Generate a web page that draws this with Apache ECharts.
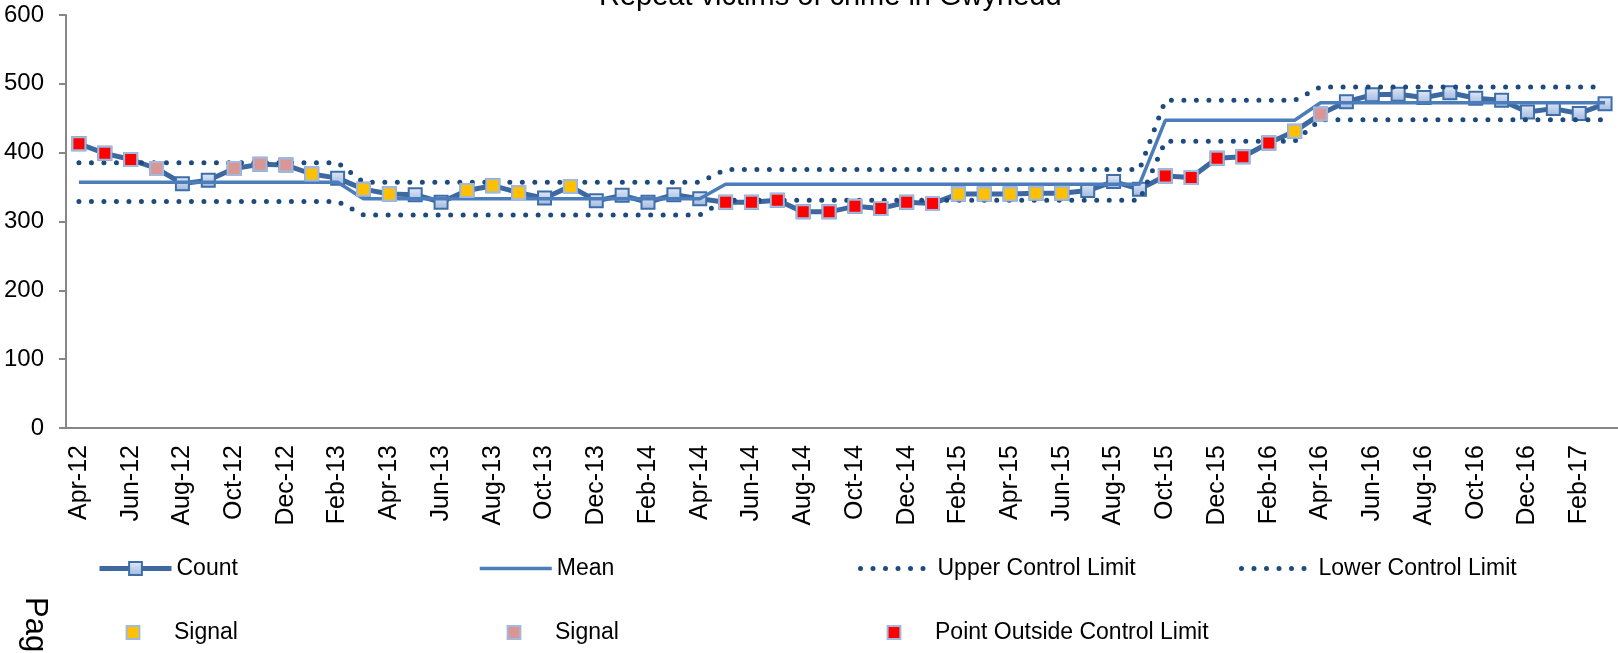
<!DOCTYPE html>
<html>
<head>
<meta charset="utf-8">
<script src="https://cdn.jsdelivr.net/npm/echarts@6/dist/echarts.min.js"></script>
<style>
  html, body { margin: 0; padding: 0; background: #fff; }
  #chart { width: 1618px; height: 653px; }
</style>
</head>
<body>
<div id="chart"></div>
<script>
const months = [
  'Apr-12', 'May-12', 'Jun-12', 'Jul-12', 'Aug-12', 'Sep-12', 'Oct-12', 'Nov-12', 'Dec-12',
  'Jan-13', 'Feb-13', 'Mar-13', 'Apr-13', 'May-13', 'Jun-13', 'Jul-13', 'Aug-13', 'Sep-13', 'Oct-13', 'Nov-13', 'Dec-13',
  'Jan-14', 'Feb-14', 'Mar-14', 'Apr-14', 'May-14', 'Jun-14', 'Jul-14', 'Aug-14', 'Sep-14', 'Oct-14', 'Nov-14', 'Dec-14',
  'Jan-15', 'Feb-15', 'Mar-15', 'Apr-15', 'May-15', 'Jun-15', 'Jul-15', 'Aug-15', 'Sep-15', 'Oct-15', 'Nov-15', 'Dec-15',
  'Jan-16', 'Feb-16', 'Mar-16', 'Apr-16', 'May-16', 'Jun-16', 'Jul-16', 'Aug-16', 'Sep-16', 'Oct-16', 'Nov-16', 'Dec-16',
  'Jan-17', 'Feb-17', 'Mar-17'
];

// monthly count of repeat victims
const counts = [
  413, 399, 390, 377, 355, 360, 377, 383, 382, 369,
  363, 347, 340, 339, 328, 345, 352, 342, 334, 351,
  330, 338, 328, 339, 333, 328, 328, 331, 314, 314,
  322, 319, 328, 326, 340, 340, 340, 341, 341, 345,
  358, 347, 366, 364, 392, 394, 414, 431, 456, 474,
  484, 485, 480, 487, 479, 476, 459, 464, 457, 471
];

const mean = [
  357, 357, 357, 357, 357, 357, 357, 357, 357, 357,
  357, 333, 333, 333, 333, 333, 333, 333, 333, 333,
  333, 333, 333, 333, 333, 354, 354, 354, 354, 354,
  354, 354, 354, 354, 354, 354, 354, 354, 354, 354,
  354, 354, 447, 447, 447, 447, 447, 447, 472.5, 472.5,
  472.5, 472.5, 472.5, 472.5, 472.5, 472.5, 472.5, 472.5, 472.5, 472.5
];

const upperLimit = [
  385.5, 385.5, 385.5, 385.5, 385.5, 385.5, 385.5, 385.5, 385.5, 385.5,
  385.5, 357, 357, 357, 357, 357, 357, 357, 357, 357,
  357, 357, 357, 357, 357, 375.5, 375.5, 375.5, 375.5, 375.5,
  375.5, 375.5, 375.5, 375.5, 375.5, 375.5, 375.5, 375.5, 375.5, 375.5,
  375.5, 375.5, 476, 476, 476, 476, 476, 476, 495.5, 495.5,
  495.5, 495.5, 495.5, 495.5, 495.5, 495.5, 495.5, 495.5, 495.5, 495.5
];

const lowerLimit = [
  329, 329, 329, 329, 329, 329, 329, 329, 329, 329,
  329, 309.5, 309.5, 309.5, 309.5, 309.5, 309.5, 309.5, 309.5, 309.5,
  309.5, 309.5, 309.5, 309.5, 309.5, 331, 331, 331, 331, 331,
  331, 331, 331, 331, 331, 331, 331, 331, 331, 331,
  331, 331, 416.5, 416.5, 416.5, 416.5, 416.5, 416.5, 448, 448,
  448, 448, 448, 448, 448, 448, 448, 448, 448, 448
];

// which months are flagged (indexes into months)
const amberSignal = [9, 11, 12, 15, 16, 17, 19, 34, 35, 36, 37, 38, 47];
const pinkSignal = [3, 6, 7, 8, 48];
const outsideLimit = [0, 1, 2, 25, 26, 27, 28, 29, 30, 31, 32, 33, 42, 43, 44, 45, 46];

const yTicks = { min: 0, max: 600, interval: 100 };

const FONT = "'Liberation Sans', Arial, sans-serif";
const DOTS = [0, 12.5];

function flagged(idx) {
  return counts.map((v, i) => (idx.includes(i) ? v : null));
}

function signalSeries(name, list, fill) {
  return {
    name: name,
    type: 'line',
    data: flagged(list),
    symbol: 'rect',
    symbolSize: 13,
    showSymbol: true,
    showAllSymbol: true,
    connectNulls: false,
    lineStyle: { opacity: 0, width: 0 },
    itemStyle: { color: fill, borderColor: '#a2b8dc', borderWidth: 2 },
    z: 5
  };
}

function legendAt(name, left, top, extra) {
  return Object.assign({
    data: [name],
    left: left,
    top: top,
    padding: 0,
    itemWidth: 72,
    itemHeight: 16,
    textStyle: { fontFamily: FONT, fontSize: 23, color: '#000' }
  }, extra || {});
}

const chart = echarts.init(document.getElementById('chart'));

const markerFill = new echarts.graphic.LinearGradient(0, 0, 0, 1, [
  { offset: 0, color: '#e3eaf6' },
  { offset: 1, color: '#9fb7e0' }
]);

const noSymbol = { itemStyle: { opacity: 0 } };
const dotLegend = {
  itemStyle: { opacity: 0 },
  lineStyle: { width: 5, type: DOTS, cap: 'round', color: '#1f4a7e' }
};

const option = {
  animation: false,
  title: {
    text: 'Repeat victims of crime in Gwynedd',
    left: 599,
    top: -18,
    padding: 0,
    textStyle: { fontFamily: FONT, fontSize: 29, fontWeight: 'normal', color: '#000' }
  },
  legend: [
    legendAt('Count', 97, 557, { lineStyle: { width: 5, color: '#3d69a0' } }),
    legendAt('Mean', 478, 557, Object.assign({ lineStyle: { width: 3.5, color: '#4a7dba' } }, noSymbol)),
    legendAt('Upper Control Limit', 858, 557, dotLegend),
    legendAt('Lower Control Limit', 1239, 557, dotLegend),
    legendAt('Signal', 97, 621),
    legendAt('Signal ', 478, 621),
    legendAt('Point Outside Control Limit', 858, 621)
  ],
  grid: { left: 66, right: -2, top: 15, bottom: 225 },
  xAxis: {
    type: 'category',
    data: months,
    axisTick: { show: false },
    axisLine: { lineStyle: { color: '#868686', width: 2 } },
    axisLabel: {
      interval: 1,
      rotate: 90,
      margin: 17,
      fontFamily: FONT,
      fontSize: 25,
      color: '#000'
    }
  },
  yAxis: {
    type: 'value',
    min: yTicks.min,
    max: yTicks.max,
    interval: yTicks.interval,
    splitLine: { show: false },
    axisLine: { show: true, lineStyle: { color: '#868686', width: 2 } },
    axisTick: { show: true, length: 7, lineStyle: { color: '#868686', width: 2 } },
    axisLabel: { margin: 22, fontFamily: FONT, fontSize: 24, color: '#000' }
  },
  series: [
    {
      name: 'Count',
      type: 'line',
      data: counts,
      symbol: 'rect',
      symbolSize: 13,
      showAllSymbol: true,
      lineStyle: { color: '#3d69a0', width: 5 },
      itemStyle: { color: markerFill, borderColor: '#3e6ea8', borderWidth: 2 },
      z: 2
    },
    {
      name: 'Mean',
      type: 'line',
      data: mean,
      symbol: 'none',
      lineStyle: { color: '#4a7dba', width: 3.5 },
      itemStyle: { color: '#4a7dba' },
      z: 3
    },
    {
      name: 'Upper Control Limit',
      type: 'line',
      data: upperLimit,
      symbol: 'none',
      lineStyle: { color: '#1f4a7e', width: 5, type: DOTS, cap: 'round' },
      itemStyle: { color: '#1f4a7e' },
      z: 3
    },
    {
      name: 'Lower Control Limit',
      type: 'line',
      data: lowerLimit,
      symbol: 'none',
      lineStyle: { color: '#1f4a7e', width: 5, type: DOTS, cap: 'round' },
      itemStyle: { color: '#1f4a7e' },
      z: 3
    },
    signalSeries('Signal', amberSignal, '#ffc000'),
    signalSeries('Signal ', pinkSignal, '#d99694'),
    signalSeries('Point Outside Control Limit', outsideLimit, '#ff0000')
  ],
  graphic: [
    {
      type: 'text',
      x: 50,
      y: 597,
      rotation: -Math.PI / 2,
      style: { text: 'Page', fontFamily: FONT, fontSize: 31, fill: '#000' }
    }
  ]
};

chart.setOption(option);
</script>
</body>
</html>
